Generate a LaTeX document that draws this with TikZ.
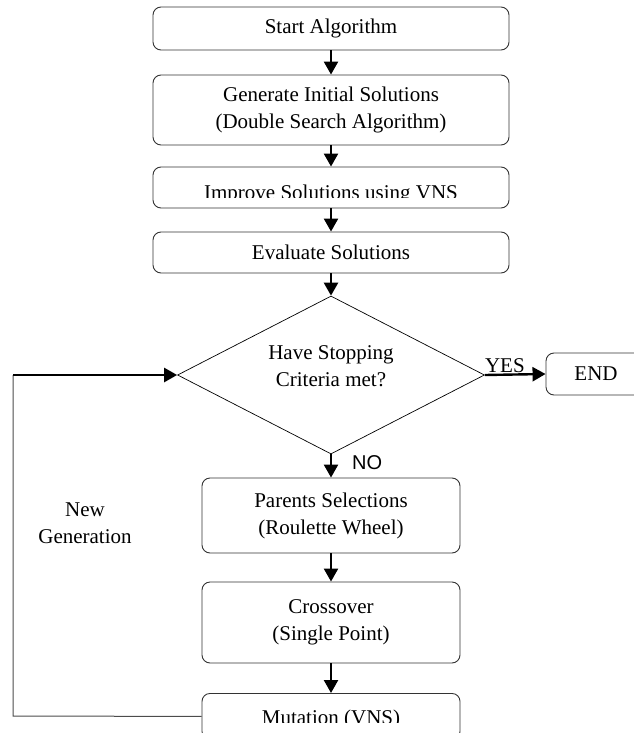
\documentclass[tikz,border=0pt]{standalone}
\usepackage{fontspec}
\setmainfont{Liberation Serif}
\newfontfamily\nofont{Liberation Sans}
\usetikzlibrary{shapes.geometric,arrows.meta}
\begin{document}
\begin{tikzpicture}[x=1pt,y=-1pt,
  box/.style={draw=black!80, line width=0.9pt, rounded corners=8pt, rectangle, inner sep=0pt},
  txt/.style={font=\fontsize{21}{27}\selectfont, align=center, inner sep=0pt},
  arr/.style={line width=2.4pt, -{Triangle[length=13pt,width=14pt]}},
  dia/.style={draw=black, line width=0.7pt, diamond, inner sep=0pt, minimum width=307pt, minimum height=158pt},
  loopline/.style={draw=black!70, line width=1pt}]
\useasboundingbox (0,0) rectangle (633,733);

% top boxes
\node[box, txt, minimum width=356pt, minimum height=43pt] (b1) at (331,28.5) {Start Algorithm};
\node[box, txt, minimum width=356pt, minimum height=70pt] (b2) at (331,110) {Generate Initial Solutions\\(Double Search Algorithm)};
\node[box, minimum width=356pt, minimum height=41pt] (b3) at (331,187.5) {};
\begin{scope}
  \clip (153,160) rectangle (509,197);
  \node[txt, anchor=base] (t3) at (331,199) {Improve Solutions using VNS};
\end{scope}
\node[box, txt, minimum width=356pt, minimum height=41pt] (b4) at (331,252.5) {Evaluate Solutions};

% decision
\node[dia] (d) at (331,375) {};
\node[txt] (dt) at (331,366) {Have Stopping\\Criteria met?};

% END box
\node[box, minimum width=100pt, minimum height=42pt] (e) at (596,374) {};
\node[txt] (et) at (e.center) {END};

% lower boxes
\node[box, txt, minimum width=258pt, minimum height=75pt] (b5) at (331,515.5) {Parents Selections\\(Roulette Wheel)};
\node[box, txt, minimum width=258pt, minimum height=81pt] (b6) at (331,622.5) {Crossover\\(Single Point)};
\node[box, minimum width=258pt, minimum height=46pt, anchor=north] (b7) at (331,693) {};
\begin{scope}
  \clip (202,680) rectangle (460,722);
  \node[txt, anchor=base] (t7) at (331,724) {Mutation (VNS)};
\end{scope}

% New Generation label
\node[txt] (ng) at (85,523.5) {New\\Generation};

% connectors
\draw[arr] (b1.south) -- (b2.north);
\draw[arr] (b2.south) -- (b3.north);
\draw[arr] (b3.south) -- (b4.north);
\draw[arr] (b4.south) -- (d.north);
\draw[arr] (d.south) -- (b5.north);
\draw[arr] (b5.south) -- (b6.north);
\draw[arr] (b6.south) -- (b7.north);
\draw[arr] (d.east) -- (e.west);
\node[txt, anchor=south west, yshift=2pt] (yes) at (d.east) {YES};
\node[anchor=west, inner sep=0pt, font=\nofont\fontsize{20}{24}\selectfont] (no) at (352,463) {NO};

% loop back
\coordinate (c1) at (13,716);
\coordinate (c2) at (13,375);
\draw[loopline] (b7.west) -- (c1) -- (c2);
\draw[arr] (c2) -- (d.west);
\end{tikzpicture}
\end{document}
